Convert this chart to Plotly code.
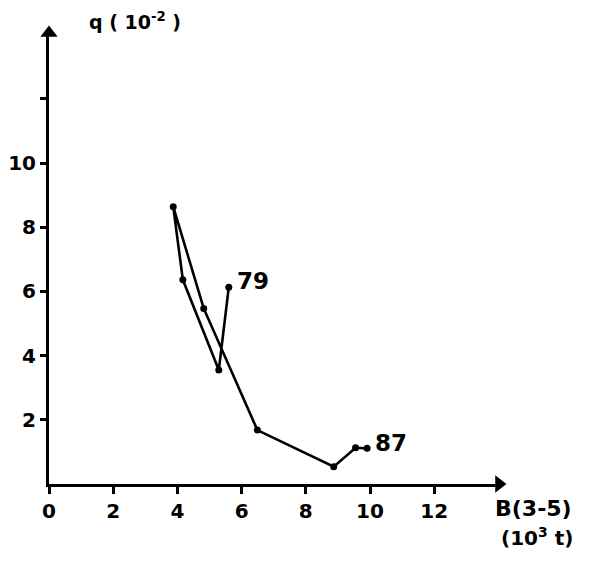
import plotly.graph_objects as go

years = ["79", "80", "81", "82", "83", "84", "85", "86", "87"]
b_values = [5.60, 5.29, 4.17, 3.87, 4.82, 6.49, 8.87, 9.55, 9.91]
q_values = [6.13, 3.55, 6.36, 8.64, 5.47, 1.68, 0.54, 1.13, 1.11]

x_ticks = [0, 2, 4, 6, 8, 10, 12]
y_ticks = [2, 4, 6, 8, 10, 12]
y_ticktext = ["2", "4", "6", "8", "10", " "]

FONT = "DejaVu Sans"
XMAX = 450 / 32.1
YMAX = 451 / 32.1

fig = go.Figure()
fig.add_trace(go.Scatter(
    x=b_values, y=q_values, mode="lines+markers",
    line=dict(color="black", width=2.6),
    marker=dict(color="black", size=7),
    cliponaxis=False, showlegend=False, hoverinfo="skip"))

# arrow heads at the ends of the axes
fig.add_trace(go.Scatter(
    x=[XMAX, 0], y=[0, YMAX], mode="markers",
    marker=dict(color="black", size=15, symbol=["triangle-right", "triangle-up"]),
    cliponaxis=False, showlegend=False, hoverinfo="skip"))

# end labels
fig.add_annotation(x=b_values[0], y=q_values[0], text="<b>79</b>", showarrow=False,
                   xanchor="left", yanchor="middle", xshift=6, yshift=6,
                   font=dict(family=FONT, size=23, color="black"))
fig.add_annotation(x=b_values[-1], y=q_values[-1], text="<b>87</b>", showarrow=False,
                   xanchor="left", yanchor="middle", xshift=6, yshift=5,
                   font=dict(family=FONT, size=23, color="black"))

# axis titles
fig.add_annotation(xref="paper", yref="paper", x=0.085, y=1, yshift=-2,
                   text="<b>q ( 10<sup>-2</sup> )</b>",
                   showarrow=False, xanchor="left", yanchor="bottom",
                   font=dict(family=FONT, size=19, color="black"))
fig.add_annotation(xref="paper", yref="paper", x=1.0, y=0, xshift=-6, yshift=-24,
                   text="<b>B(3-5)</b>",
                   showarrow=False, xanchor="left", yanchor="middle",
                   font=dict(family=FONT, size=22, color="black"))
fig.add_annotation(xref="paper", yref="paper", x=1.0, y=0, xshift=0, yshift=-53,
                   text="<b>(10<sup>3</sup> t)</b>",
                   showarrow=False, xanchor="left", yanchor="middle",
                   font=dict(family=FONT, size=20, color="black"))

fig.update_layout(
    width=600, height=573,
    margin=dict(l=41, r=109, t=25, b=97),
    paper_bgcolor="white", plot_bgcolor="white",
    xaxis=dict(range=[0, XMAX], tickvals=x_ticks, automargin=False,
               ticktext=["<b>%d</b>" % v for v in x_ticks],
               showgrid=False, zeroline=False, showline=True, linewidth=3, linecolor="black",
               ticks="outside", ticklen=7, tickwidth=2.5, tickcolor="black",
               tickfont=dict(family=FONT, size=20, color="black")),
    yaxis=dict(range=[0, YMAX], tickvals=y_ticks, automargin=False,
               ticktext=["<b>%s</b>" % t for t in y_ticktext],
               showgrid=False, zeroline=False, showline=True, linewidth=3, linecolor="black",
               ticks="outside", ticklen=6, tickwidth=2.5, tickcolor="black",
               tickfont=dict(family=FONT, size=20, color="black")),
)
fig.write_html("out.html")
